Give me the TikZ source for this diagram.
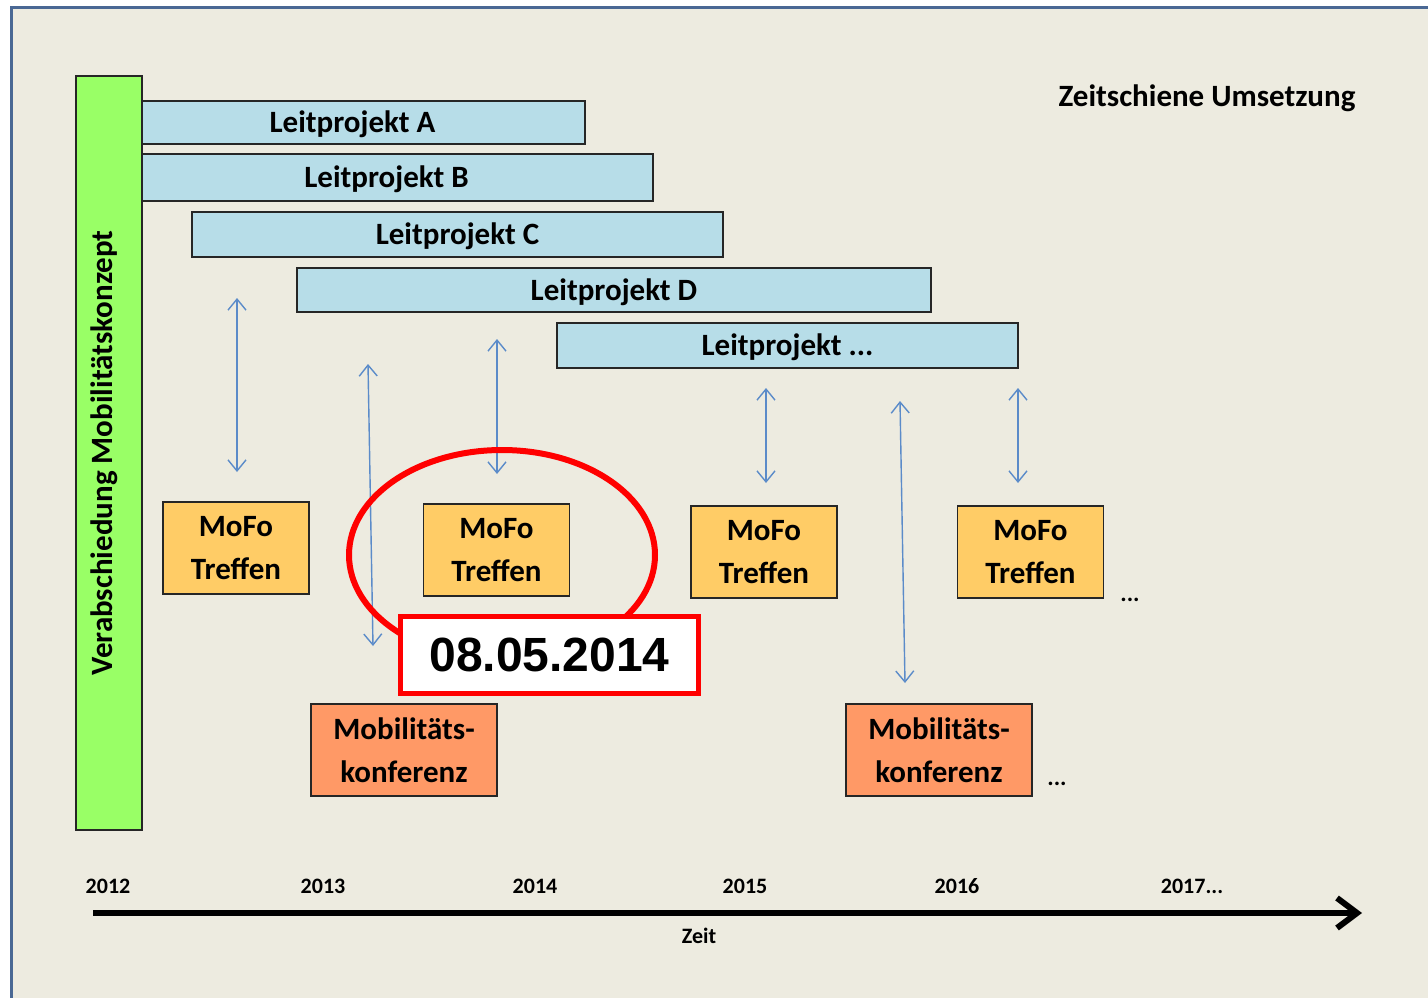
\documentclass[tikz,border=0pt]{standalone}
\usepackage{fontspec}
\setmainfont{Carlito}
\newfontfamily\arialfont{Liberation Sans}
\usetikzlibrary{arrows.meta}
\definecolor{bgc}{HTML}{EDEBE0}
\definecolor{framec}{HTML}{4A6894}
\definecolor{greenc}{HTML}{99FF66}
\definecolor{bluec}{HTML}{B7DDE8}
\definecolor{mofoc}{HTML}{FFCC66}
\definecolor{konfc}{HTML}{FF9966}
\definecolor{arrc}{HTML}{5B8BC9}
\tikzset{
  x=1pt, y=-1pt,
  lp/.style={draw=black!85, line width=1.6pt, fill=bluec, font=\fontsize{31}{32}\selectfont\bfseries, text depth=1pt},
  mofo/.style={draw=black!85, line width=1.6pt, fill=mofoc, minimum width=146pt, minimum height=92pt, align=center, font=\fontsize{31}{43}\selectfont\bfseries, inner sep=0pt, text depth=-6pt},
  konf/.style={draw=black!85, line width=1.6pt, fill=konfc, minimum width=186pt, minimum height=92pt, align=center, font=\fontsize{31}{43}\selectfont\bfseries, inner sep=0pt, text depth=-6pt},
  link/.style={draw=arrc, line width=1.4pt, {Straight Barb[length=11pt,width=18pt]}-{Straight Barb[length=11pt,width=18pt]}},
  yr/.style={font=\fontsize{22}{24}\selectfont\bfseries, inner sep=0pt},
  dots/.style={font=\fontsize{24}{24}\selectfont\bfseries, inner sep=0pt}
}
\begin{document}
\begin{tikzpicture}
\useasboundingbox (0,0) rectangle (1428,998);
\fill[white] (0,0) rectangle (1428,998);
\draw[framec, line width=3pt, fill=bgc] (11,8) rectangle (1445,1015);

% Leitprojekte
\node[lp, minimum width=465pt, minimum height=43pt] (lpA) at (352.5,122.5) {Leitprojekt A};
\node[lp, minimum width=533pt, minimum height=47pt] (lpB) at (386.5,177.5) {Leitprojekt B};
\node[lp, minimum width=531pt, minimum height=45pt] (lpC) at (457.5,234.5) {Leitprojekt C};
\node[lp, minimum width=634pt, minimum height=44pt] (lpD) at (614,290) {Leitprojekt D};
\node[lp, minimum width=461pt, minimum height=45pt] (lpE) at (787.5,345.5) {Leitprojekt ...};

% green bar
\node[draw=black!85, line width=1.6pt, fill=greenc, minimum width=66pt, minimum height=754pt, inner sep=0pt] (gb) at (109,453) {};
\node[rotate=90, font=\fontsize{31}{32}\selectfont\bfseries] (gbt) at (104,453) {Verabschiedung Mobilitätskonzept};

% title
\node[font=\fontsize{31}{32}\selectfont\bfseries] (title) at (1207,98) {Zeitschiene Umsetzung};

% MoFo boxes
\node[mofo] (m1) at (236,548) {MoFo\\Treffen};
\node[mofo] (m2) at (496.5,550) {MoFo\\Treffen};
\node[mofo] (m3) at (764,552) {MoFo\\Treffen};
\node[mofo] (m4) at (1030.5,552) {MoFo\\Treffen};
\node[dots] (d1) at (1130,600) {...};

% Konferenz boxes
\node[konf] (k1) at (404,750) {Mobilitäts-\\konferenz};
\node[konf] (k2) at (939,750) {Mobilitäts-\\konferenz};
\node[dots] (d2) at (1057,784) {...};

% link arrows
\coordinate (a1t) at (237,298); \coordinate (a1b) at (237,472);
\coordinate (a2t) at (368,364); \coordinate (a2b) at (373,646);
\coordinate (a3t) at (497,339); \coordinate (a3b) at (497,474);
\coordinate (a4t) at (766,388); \coordinate (a4b) at (766,483);
\coordinate (a5t) at (900,401); \coordinate (a5b) at (905,683);
\coordinate (a6t) at (1018,388); \coordinate (a6b) at (1018,483);
\draw[link] (a1t) -- (a1b);
\draw[link] (a2t) -- (a2b);
\draw[link] (a3t) -- (a3b);
\draw[link] (a4t) -- (a4b);
\draw[link] (a5t) -- (a5b);
\draw[link] (a6t) -- (a6b);

% red highlight
\draw[red, line width=6pt] (502,555) ellipse [x radius=153pt, y radius=105pt];
\node[draw=red, line width=5pt, fill=white, minimum width=298pt, minimum height=77pt, inner sep=0pt, font=\arialfont\fontsize{48}{50}\selectfont\bfseries] (date) at (549.5,655) {08.05.2014};

% timeline
\coordinate (ts) at (93,913);
\coordinate (te) at (1362,913);
\draw[line width=6pt, -{Straight Barb[length=20pt,width=30pt]}] (ts) -- (te);
\node[yr] (y12) at (108,886) {2012};
\node[yr] (y13) at (323,886) {2013};
\node[yr] (y14) at (535,886) {2014};
\node[yr] (y15) at (745,886) {2015};
\node[yr] (y16) at (957,886) {2016};
\node[yr] (y17) at (1192,886) {2017...};
\node[yr] (zeit) at (699,936) {Zeit};
\end{tikzpicture}
\end{document}
